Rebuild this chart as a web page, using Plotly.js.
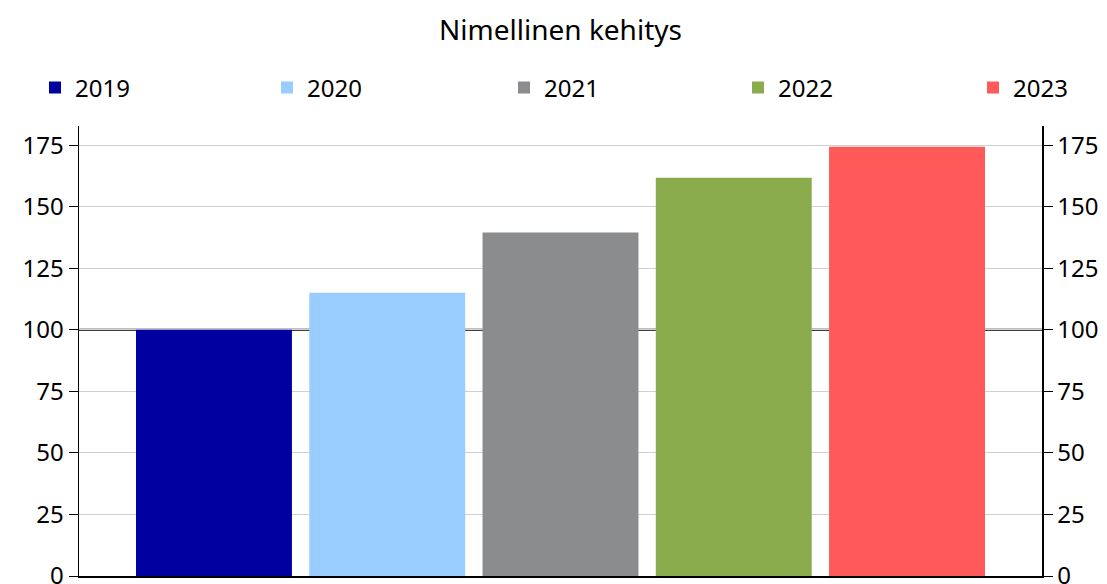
<!DOCTYPE html>
<html>
<head>
<meta charset="utf-8">
<script src="https://cdn.plot.ly/plotly-3.0.1.min.js"></script>
<style>html,body{margin:0;padding:0;background:#fff;}#chart{width:1107px;height:584px;}</style>
</head>
<body>
<div id="chart"></div>
<script>
const years = ["2019", "2020", "2021", "2022", "2023"];
const values = [100, 115.1, 139.5, 161.8, 174.4];
const colors = ["#0000A0", "#99CCFF", "#8B8C8E", "#8AAC4C", "#FF5A5A"];
const yTicks = [0, 25, 50, 75, 100, 125, 150, 175];
const refLevel = 100;

const FONT = "Noto Sans, DejaVu Sans, sans-serif";
const W = 1107, H = 584;

// left edge (px) of each legend entry
const legendLeft = [35, 267, 504, 738, 973];
const legendNames = ["legend", "legend2", "legend3", "legend4", "legend5"];

const traces = years.map((yr, i) => ({
  type: "bar",
  name: yr,
  x: [yr],
  y: [values[i]],
  width: 0.9,
  marker: {color: colors[i], line: {width: 0}},
  legend: legendNames[i],
  hoverinfo: "skip"
}));

const yRange = [0, 182.8];

const layout = {
  width: W,
  height: H,
  paper_bgcolor: "#fff",
  plot_bgcolor: "#fff",
  margin: {l: 79, r: 65, t: 126, b: 8, pad: 0},
  title: {
    text: "Nimellinen kehitys",
    font: {family: FONT, size: 28, color: "#000"},
    x: 0.5, xanchor: "center", xref: "paper",
    y: 1 - 30 / H, yanchor: "middle", yref: "container"
  },
  barmode: "overlay",
  showlegend: true,
  xaxis: {
    type: "category",
    categoryorder: "array",
    categoryarray: years,
    range: [-0.779, 4.779],
    showticklabels: false,
    ticks: "",
    showgrid: false,
    zeroline: false,
    showline: true,
    linecolor: "#000",
    linewidth: 1.5,
    fixedrange: true
  },
  yaxis: {
    range: yRange,
    tickvals: yTicks,
    ticktext: yTicks.map(String),
    ticks: "outside",
    ticklen: 9,
    tickwidth: 1,
    tickcolor: "#000",
    showline: true,
    linecolor: "#000",
    linewidth: 1.5,
    showgrid: true,
    gridcolor: "#D0D0D0",
    gridwidth: 1,
    zeroline: false,
    tickfont: {family: FONT, size: 24, color: "#000"},
    ticklabeloverflow: "allow",
    fixedrange: true
  },
  yaxis2: {
    overlaying: "y",
    side: "right",
    anchor: "x",
    range: yRange,
    tickvals: yTicks,
    ticktext: yTicks.map(String),
    ticks: "outside",
    ticklen: 9,
    tickwidth: 1,
    tickcolor: "#000",
    showline: true,
    linecolor: "#000",
    linewidth: 1.5,
    showgrid: false,
    zeroline: false,
    tickfont: {family: FONT, size: 24, color: "#000"},
    ticklabeloverflow: "allow",
    fixedrange: true
  },
  shapes: [{
    type: "line",
    xref: "paper", x0: 0, x1: 1,
    yref: "y", y0: refLevel, y1: refLevel,
    line: {color: "#000", width: 2},
    layer: "between"
  }]
};

legendNames.forEach((ln, i) => {
  layout[ln] = {
    orientation: "h",
    x: legendLeft[i] / W, xanchor: "left", xref: "container",
    y: 1 - 88 / H, yanchor: "middle", yref: "container",
    font: {family: FONT, size: 24, color: "#000"},
    itemwidth: 30,
    bgcolor: "rgba(0,0,0,0)",
    borderwidth: 0
  };
});

// invisible trace to activate right axis
traces.push({
  type: "scatter", x: [years[0]], y: [null], yaxis: "y2",
  showlegend: false, hoverinfo: "skip", mode: "markers"
});

Plotly.newPlot("chart", traces, layout, {displayModeBar: false, staticPlot: true});
</script>
</body>
</html>
